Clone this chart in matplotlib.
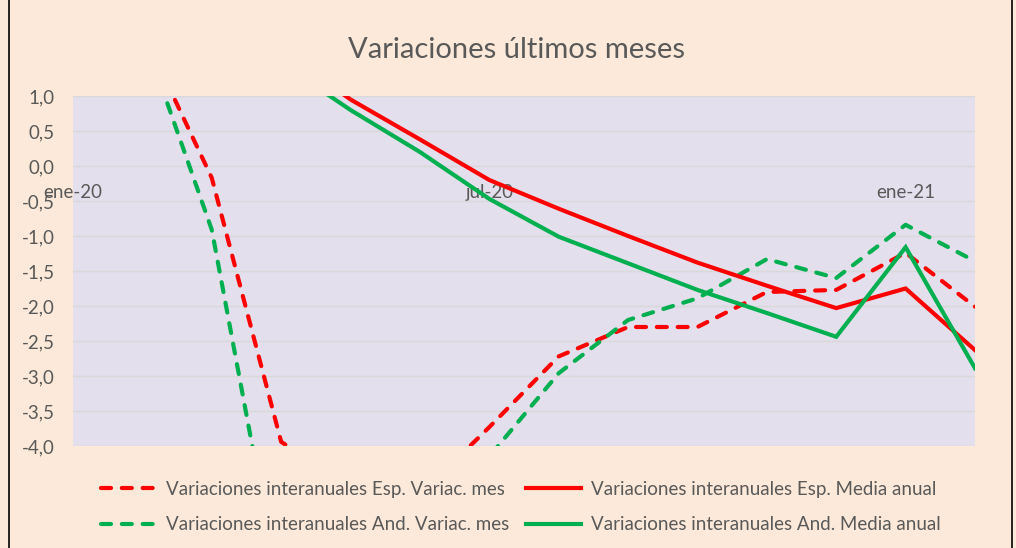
import matplotlib
matplotlib.use("Agg")
import matplotlib.pyplot as plt
from matplotlib.ticker import FuncFormatter, FixedLocator
from matplotlib.lines import Line2D

# months ene-20 .. feb-21 (14 points); only three get a label, like the Excel original
months = ['ene-20', 'feb-20', 'mar-20', 'abr-20', 'may-20', 'jun-20', 'jul-20',
          'ago-20', 'sep-20', 'oct-20', 'nov-20', 'dic-20', 'ene-21', 'feb-21']
shown_labels = {0: 'ene-20', 6: 'jul-20', 12: 'ene-21'}

# values (off-scale points are estimates from where the lines cross the frame)
esp_var_mes = [2.0, 1.93, -0.17, -3.94, -4.6, -4.7, -3.73, -2.72, -2.3, -2.3, -1.8, -1.77, -1.24, -2.01]
esp_media = [2.6, 2.4, 2.1, 1.66, 0.95, 0.38, -0.2, -0.61, -1.0, -1.38, -1.71, -2.03, -1.75, -2.63]
and_var_mes = [2.1, 1.91, -0.91, -6.2, -6.0, -5.4, -4.15, -2.96, -2.2, -1.89, -1.33, -1.6, -0.84, -1.36]
and_media = [2.7, 2.5, 2.2, 1.47, 0.8, 0.2, -0.47, -1.01, -1.39, -1.77, -2.1, -2.44, -1.16, -2.89]

labels = ['Variaciones interanuales Esp. Variac. mes',
          'Variaciones interanuales Esp. Media anual',
          'Variaciones interanuales And. Variac. mes',
          'Variaciones interanuales And. Media anual']

RED = '#FF0000'
GREEN = '#00B050'
TEXT = '#595959'
LW = 3.0
DASH = (0, (2.4, 2.6))

plt.rcParams['font.family'] = ['Lato', 'DejaVu Sans']

fig = plt.figure(figsize=(10.16, 5.48), dpi=100, facecolor='#FDE9D9')
ax = fig.add_axes([73 / 1016, 1 - 446 / 548, 902 / 1016, 350 / 548])
ax.set_facecolor('#E4DFEC')

x = list(range(len(months)))
series = [
    (esp_var_mes, RED, DASH),
    (and_var_mes, GREEN, DASH),
    (esp_media, RED, '-'),
    (and_media, GREEN, '-'),
]
handles = []
for vals, color, ls in series:
    ln, = ax.plot(x, vals, color=color, linestyle=ls, linewidth=LW,
                  dash_capstyle='round', solid_joinstyle='miter', zorder=3)
    handles.append(ln)

ax.set_xlim(0, len(months) - 1)
ax.set_ylim(-4, 1)
ax.yaxis.set_major_locator(FixedLocator([v / 2 for v in range(-8, 3)]))
ax.yaxis.set_major_formatter(FuncFormatter(lambda v, p: f"{v:.1f}".replace('.', ',')))
ax.grid(axis='y', color='#D9D9D9', linewidth=1.0, zorder=0)
ax.set_axisbelow(True)

# category axis crosses at y = 0, labels sit just under it (inside the plot)
ax.spines['bottom'].set_position(('data', 0))
for side in ['top', 'right', 'left', 'bottom']:
    ax.spines[side].set_visible(False)
ax.xaxis.set_major_locator(FixedLocator(list(shown_labels.keys())))
ax.set_xticklabels(list(shown_labels.values()))
ax.tick_params(axis='x', length=0, pad=13, labelsize=13.5, labelcolor=TEXT)
ax.tick_params(axis='y', length=0, pad=13, labelsize=13.5, labelcolor=TEXT)
for t in ax.get_xticklabels():
    t.set_zorder(5)

fig.text(517 / 1016, 1 - 50 / 548, 'Variaciones últimos meses', ha='center', va='center',
         fontsize=21, color=TEXT)

# legend: two rows, Esp on top, And below
order = [handles[0], handles[1], handles[2], handles[3]]
order_labels = [labels[0], labels[2], labels[1], labels[3]]
leg = fig.legend(order, order_labels, ncol=2, loc='center',
                 bbox_to_anchor=(521 / 1016, 1 - 507 / 548), frameon=False,
                 fontsize=13.5, handlelength=2.9, handletextpad=0.55,
                 columnspacing=0.9, labelspacing=1.0)
for t in leg.get_texts():
    t.set_color(TEXT)

# thin black frame on the sides of the chart area
fig.add_artist(Line2D([8.5 / 1016, 8.5 / 1016], [0, 1], color='black', linewidth=1.2))
fig.add_artist(Line2D([1011.5 / 1016, 1011.5 / 1016], [0, 1], color='black', linewidth=1.2))

fig.savefig('out.png', dpi=100, facecolor=fig.get_facecolor())
